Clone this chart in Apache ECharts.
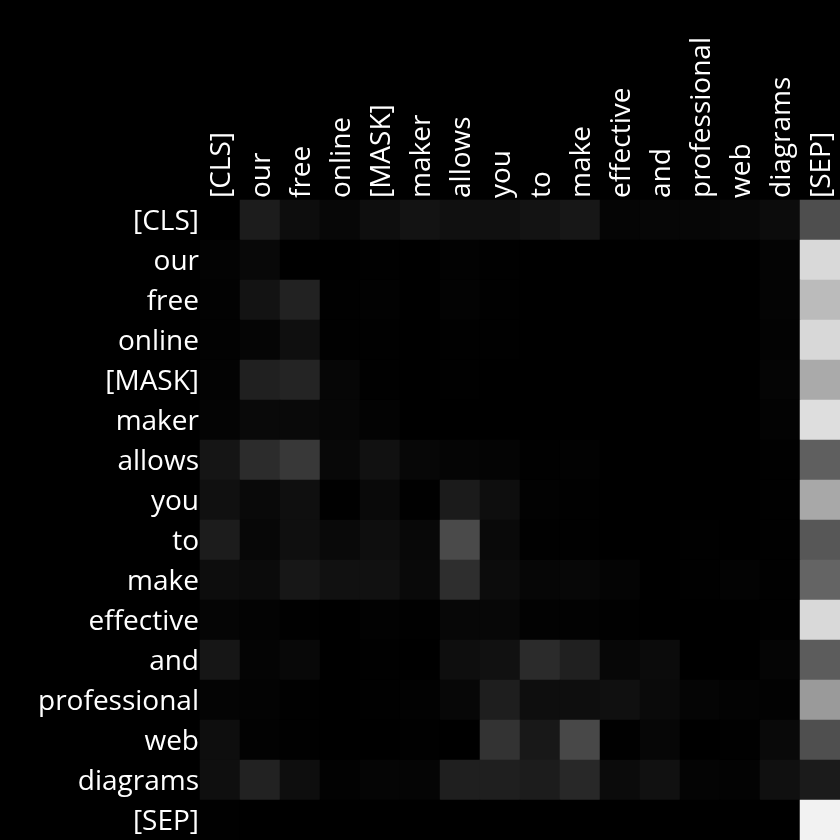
<!DOCTYPE html>
<html>
<head>
<meta charset="utf-8">
<script src="https://cdn.jsdelivr.net/npm/echarts@6/dist/echarts.min.js"></script>
<style>
html,body{margin:0;padding:0;background:#000;}
#chart{width:840px;height:840px;}
</style>
</head>
<body>
<div id="chart"></div>
<script>
const tokens = ["[CLS]","our","free","online","[MASK]","maker","allows","you","to","make","effective","and","professional","web","diagrams","[SEP]"];

// attention weights (rows = query token, cols = key token), read as brightness 0..255
const rowCLS          = [0,28,13,7,14,19,16,16,19,23,5,6,6,8,12,78];
const rowOur          = [3,8,0,0,1,0,2,1,0,0,0,0,0,0,4,217];
const rowFree         = [2,19,34,1,2,0,3,1,0,0,0,0,0,0,4,187];
const rowOnline       = [2,5,15,1,1,0,1,1,0,0,0,0,0,0,3,216];
const rowMASK         = [3,32,36,6,1,0,1,0,0,0,0,0,0,0,5,170];
const rowMaker        = [4,9,9,6,3,0,0,0,0,0,0,0,0,0,3,222];
const rowAllows       = [21,44,56,8,17,7,5,4,1,2,0,0,0,0,1,95];
const rowYou          = [16,9,15,1,9,1,27,14,2,1,0,0,0,0,1,168];
const rowTo           = [28,7,15,9,14,8,74,9,1,1,0,0,1,0,1,87];
const rowMake         = [13,11,23,17,17,9,46,12,6,7,4,0,1,3,1,100];
const rowEffective    = [5,3,1,0,2,1,7,7,2,2,1,0,0,0,1,217];
const rowAnd          = [22,4,8,0,1,0,14,17,43,32,7,11,0,0,5,92];
const rowProfessional = [4,3,1,0,1,2,7,30,14,14,16,10,5,3,2,154];
const rowWeb          = [14,2,1,0,0,1,0,51,24,72,1,6,0,1,9,79];
const rowDiagrams     = [15,34,14,2,5,5,31,31,28,40,11,17,4,3,16,27];
const rowSEP          = [1,0,0,0,0,0,0,0,0,0,0,0,0,0,0,242];

const rows = [rowCLS,rowOur,rowFree,rowOnline,rowMASK,rowMaker,rowAllows,rowYou,rowTo,rowMake,rowEffective,rowAnd,rowProfessional,rowWeb,rowDiagrams,rowSEP];

const data = [];
rows.forEach((r, i) => r.forEach((v, j) => data.push([j, i, v / 255])));

const chart = echarts.init(document.getElementById('chart'));
const font = '"Open Sans", sans-serif';
const richT = {t: {color: '#ffffff', fontSize: 28, fontFamily: font, padding: [5, 0, 0, 0]}};
chart.setOption({
  backgroundColor: '#000000',
  animation: false,
  grid: {left: 200, top: 200, width: 640, height: 640},
  xAxis: {
    type: 'category', data: tokens, position: 'top',
    axisLine: {show: false}, axisTick: {show: false}, splitLine: {show: false},
    axisLabel: {color: '#ffffff', fontSize: 28, fontFamily: font, rotate: -90, margin: 2, interval: 0,
      formatter: v => '{t|' + v + '}', rich: richT}
  },
  yAxis: {
    type: 'category', data: tokens, inverse: true,
    axisLine: {show: false}, axisTick: {show: false}, splitLine: {show: false},
    axisLabel: {color: '#ffffff', fontSize: 28, fontFamily: font, margin: 1, interval: 0,
      formatter: v => '{t|' + v + '}', rich: richT}
  },
  visualMap: {show: false, min: 0, max: 1, inRange: {color: ['#000000', '#ffffff']}},
  series: [{type: 'heatmap', data: data, itemStyle: {borderWidth: 0}, emphasis: {disabled: true}}]
});
</script>
</body>
</html>
